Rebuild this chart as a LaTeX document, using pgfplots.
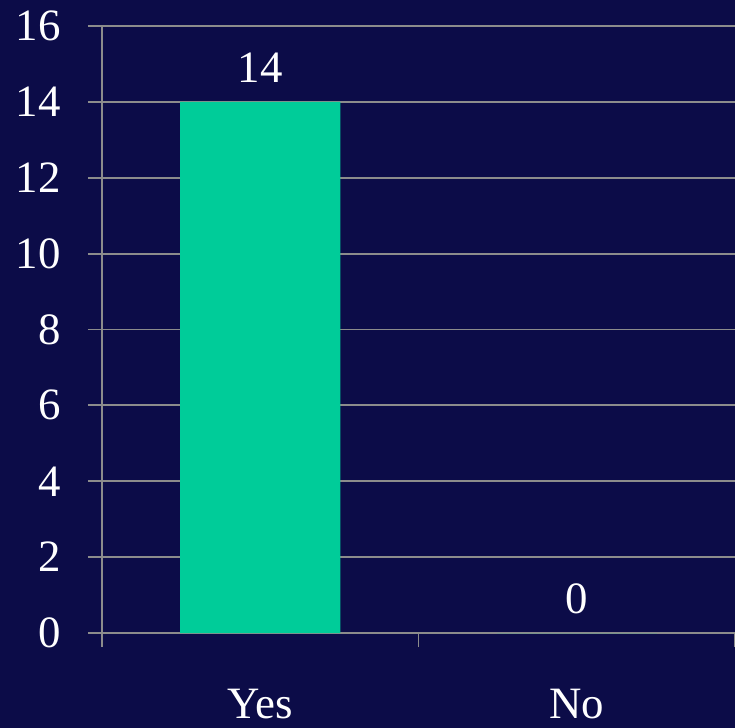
\documentclass[border=0pt]{standalone}
\usepackage{fontspec}
\setmainfont{Liberation Serif}
\usepackage{pgfplots}
\pgfplotsset{compat=1.18}
\definecolor{bgnavy}{RGB}{12,12,72}
\definecolor{barteal}{RGB}{0,204,153}
\definecolor{gridgray}{RGB}{140,140,140}
\begin{document}
\begin{tikzpicture}
\fontsize{22.5}{27}\selectfont
\fill[bgnavy] (-51bp,-47.5bp) rectangle (316.5bp,316.5bp);
\useasboundingbox (-51bp,-47.5bp) rectangle (316.5bp,316.5bp);
\begin{axis}[
  at={(0,0)}, anchor=south west,
  scale only axis, width=316.5bp, height=303.5bp,
  xmin=-0.5, xmax=1.5, ymin=0, ymax=16,
  ytick={0,2,...,16},
  ymajorgrids, grid style={gridgray, line width=1pt},
  xtick={-0.5,0.5,1.5}, xticklabels={},
  extra x ticks={0,1}, extra x tick labels={Yes,No},
  extra x tick style={major tick length=0pt, xticklabel style={yshift=-20.5bp}},
  tick align=outside, major tick length=7bp,
  axis x line*=bottom, axis y line*=left,
  axis line style={gridgray, line width=1pt, -},
  tick style={gridgray, line width=1pt},
  ticklabel style={white, font=\fontsize{22.5}{27}\selectfont},
  yticklabel style={xshift=-6bp},
  /pgf/number format/assume math mode=true,
  ybar, bar width=80bp, bar shift=0pt,
  nodes near coords,
  every node near coord/.append style={white, font=\fontsize{22.5}{27}\selectfont, yshift=2bp},
]
\addplot[fill=barteal, draw=none] coordinates {(0,14) (1,0)};
\end{axis}
\end{tikzpicture}
\end{document}
